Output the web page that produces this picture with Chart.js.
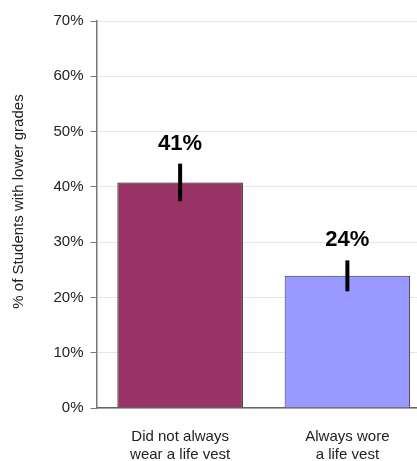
<!DOCTYPE html>
<html>
<head>
<meta charset="utf-8">
<script src="https://cdn.jsdelivr.net/npm/chart.js@4.4.0/dist/chart.umd.min.js"></script>
<style>
  html, body { margin: 0; padding: 0; background: #fff; overflow: hidden; }
  #wrap { width: 431px; height: 461px; }
</style>
</head>
<body>
<div id="wrap"><canvas id="chart"></canvas></div>
<script>
const categories = [['Did not always', 'wear a life vest'], ['Always wore', 'a life vest']];
const values = [40.8, 23.9];
const errLow = [37.4, 21.1];
const errHigh = [44.2, 26.7];
const valueLabels = ['41%', '24%'];
const yTicks = [0, 10, 20, 30, 40, 50, 60, 70];
const yTitle = '% of Students with lower grades';

const FONT = "Arial, 'Liberation Sans', sans-serif";

// error bars, value labels and the y title
const extras = {
  id: 'extras',
  afterDatasetsDraw(chart) {
    const ctx = chart.ctx;
    const meta = chart.getDatasetMeta(0);
    const y = chart.scales.y;
    ctx.save();
    meta.data.forEach((bar, i) => {
      const top = y.getPixelForValue(errHigh[i]);
      const bot = y.getPixelForValue(errLow[i]);
      ctx.strokeStyle = '#000';
      ctx.lineWidth = 4;
      ctx.beginPath();
      ctx.moveTo(bar.x, top);
      ctx.lineTo(bar.x, bot);
      ctx.stroke();
      ctx.fillStyle = '#000';
      ctx.font = 'bold 22px ' + FONT;
      ctx.textAlign = 'center';
      ctx.textBaseline = 'alphabetic';
      ctx.fillText(valueLabels[i], bar.x, top - 14);
    });
    // y title
    ctx.translate(18.5, 201.5);
    ctx.rotate(-Math.PI / 2);
    ctx.fillStyle = '#222';
    ctx.font = '15px ' + FONT;
    ctx.textAlign = 'center';
    ctx.textBaseline = 'middle';
    ctx.fillText(yTitle, 0, 0);
    ctx.restore();
  }
};

new Chart(document.getElementById('chart'), {
  type: 'bar',
  data: {
    labels: categories,
    datasets: [{
      data: values,
      backgroundColor: ['#993366', '#9999FF'],
      borderColor: ['#000000', '#333366'],
      borderWidth: 1,
      barPercentage: 0.75,
      categoryPercentage: 1
    }]
  },
  options: {
    responsive: true,
    maintainAspectRatio: false,
    animation: false,
    layout: { padding: { top: 21, right: 0, bottom: 0, left: 0 } },
    plugins: { legend: { display: false }, tooltip: { enabled: false } },
    scales: {
      x: {
        grid: { display: false, drawTicks: false },
        border: { color: '#666', width: 1.5 },
        ticks: {
          color: '#222',
          font: { family: FONT, size: 15, lineHeight: 1.2 },
          padding: 20,
          maxRotation: 0
        },
        afterFit(s) { s.height = 53; }
      },
      y: {
        min: 0,
        max: 70,
        afterBuildTicks(s) { s.ticks = yTicks.map(v => ({ value: v })); },
        grid: { color: '#e6e6e6', tickColor: '#777', tickLength: 6 },
        border: { color: '#777', width: 1.5 },
        ticks: {
          color: '#222',
          font: { family: FONT, size: 15 },
          padding: 7,
          callback: v => v + '%'
        },
        afterFit(s) { s.width = 96.5; }
      }
    }
  },
  plugins: [extras]
});
</script>
</body>
</html>
